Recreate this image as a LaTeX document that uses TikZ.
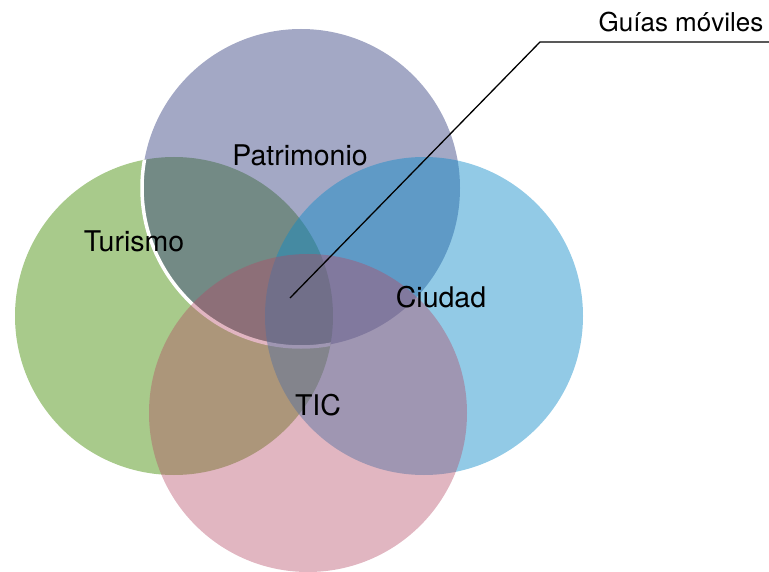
\documentclass[tikz,border=0pt]{standalone}
\usepackage{fontspec}
\setmainfont{TeX Gyre Heros}
\usepackage{tikz}
\usetikzlibrary{positioning}
\definecolor{TurGreen}{HTML}{519517}
\definecolor{PatBlue}{HTML}{333E7F}
\definecolor{CiuBlue}{HTML}{0D8AC8}
\definecolor{TicPink}{HTML}{B44864}

\begin{document}
\begin{tikzpicture}[
    x=1pt, y=-1pt,
    font=\fontsize{28.5}{33}\selectfont,
    venn/.style={circle, inner sep=0pt, minimum size=318pt},
    lbl/.style={text=black, inner sep=0pt},
    lead/.style={draw=black, line width=1.3pt}
]
\useasboundingbox (0,0) rectangle (769,572);

\node[venn, fill=TurGreen, fill opacity=0.5] (tur) at (174,316) {};
\node[venn, fill=PatBlue, fill opacity=0.45] (pat) at (301,188) {};
% white rim of Patrimonio, only over Turismo
\begin{scope}
  \clip (tur.center) circle[radius=159pt];
  \draw[white, line width=3.5pt] (pat.center) circle[radius=159pt];
\end{scope}
\node[venn, fill=CiuBlue, fill opacity=0.45] (ciu) at (424,316) {};
\node[venn, fill=TicPink, fill opacity=0.4] (tic) at (308,413) {};

\node[lbl] (tTur) at (134,241) {Turismo};
\node[lbl] (tPat) at (300,155) {Patrimonio};
\node[lbl] (tCiu) at (441,297) {Ciudad};
\node[lbl] (tTic) at (318,405) {TIC};
\node[lbl, font=\fontsize{26}{30}\selectfont] (tGuia) at (681,22) {Guías móviles};

\coordinate (tip) at (290,298);
\coordinate (bend) at (540,42);
\coordinate (lineEnd) at (769,42);
\draw[lead] (tip) -- (bend) -- (lineEnd);
\end{tikzpicture}
\end{document}
